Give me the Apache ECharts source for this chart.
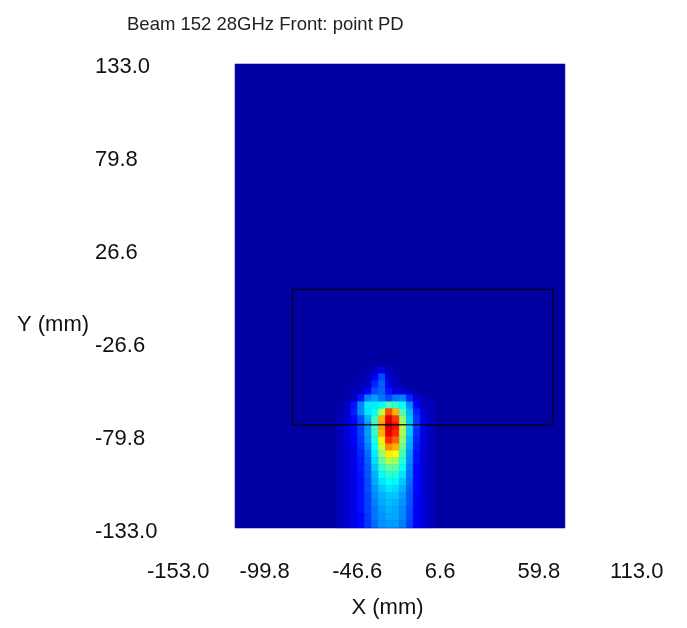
<!DOCTYPE html>
<html><head><meta charset="utf-8">
<script src="https://cdn.jsdelivr.net/npm/echarts@6/dist/echarts.min.js"></script>
<style>html,body{margin:0;padding:0;background:#fff}#c{width:687px;height:628px}</style>
</head><body><div id="c"></div>
<script>
const chartTitle = 'Beam 152 28GHz Front: point PD';
const xName = 'X (mm)';
const yName = 'Y (mm)';
const xTicks = [-153.0, -99.8, -46.6, 6.6, 59.8, 113.0];
const yTicks = [-133.0, -79.8, -26.6, 26.6, 79.8, 133.0];
// measured field extent [xMin, xMax, yMin, yMax] (mm)
const fieldExtent = [-102.4, 87.1, -130.7, 134.7];
const backgroundLevel = 0.02;
// evaluation box [xMin, xMax, yMin, yMax] (mm)
const evalBox = [-69.5, 80.1, -71.6, 5.7];
// cell centres (mm) of the hot region; rows listed top to bottom
const cellX = [-42, -38, -34, -30, -26, -22, -18, -14, -10, -6, -2, 2, 6, 10];
const cellY = [-40.5, -44.5, -48.5, -52.5, -56.5, -60.5, -64.5, -68.5, -72.5, -76.5, -80.5, -84.5,
  -88.5, -92.5, -96.5, -100.5, -104.5, -108.5, -112.5, -116.5, -120.5, -124.5, -128.5];
const cellSize = 4;
// normalised power density (0..1)
const intensity = [
  [.02,.02,.02,.02,.03,.06,.10,.05,.03,.02,.02,.02,.02,.02],
  [.02,.02,.02,.03,.05,.12,.20,.08,.04,.02,.02,.02,.02,.02],
  [.02,.02,.03,.04,.06,.16,.22,.10,.05,.03,.02,.02,.02,.02],
  [.02,.03,.04,.06,.12,.20,.22,.14,.10,.08,.05,.03,.02,.02],
  [.02,.03,.06,.14,.25,.28,.24,.20,.24,.25,.16,.08,.04,.03],
  [.03,.06,.14,.26,.36,.36,.38,.45,.42,.38,.26,.12,.06,.05],
  [.04,.07,.15,.26,.35,.38,.55,.80,.70,.45,.30,.16,.08,.05],
  [.04,.07,.13,.20,.30,.44,.70,.90,.82,.52,.32,.18,.09,.05],
  [.05,.08,.13,.19,.28,.44,.72,.93,.86,.55,.33,.18,.10,.05],
  [.05,.08,.13,.19,.28,.43,.70,.90,.84,.54,.32,.17,.09,.05],
  [.05,.08,.12,.18,.27,.41,.64,.84,.78,.52,.30,.16,.09,.05],
  [.05,.07,.11,.17,.25,.38,.58,.74,.70,.48,.29,.15,.08,.05],
  [.05,.07,.10,.16,.23,.36,.52,.64,.62,.44,.27,.14,.08,.05],
  [.05,.07,.10,.15,.22,.34,.47,.55,.53,.41,.26,.14,.08,.05],
  [.05,.07,.10,.15,.21,.32,.42,.47,.46,.38,.25,.13,.08,.05],
  [.05,.07,.10,.14,.21,.30,.38,.42,.41,.35,.24,.13,.08,.05],
  [.05,.07,.10,.14,.20,.29,.35,.38,.37,.32,.23,.13,.08,.05],
  [.05,.07,.10,.14,.20,.27,.32,.35,.34,.30,.22,.13,.08,.05],
  [.05,.07,.10,.14,.19,.26,.30,.32,.32,.28,.21,.12,.08,.05],
  [.05,.07,.10,.14,.19,.25,.29,.31,.30,.27,.21,.12,.08,.05],
  [.05,.07,.10,.14,.19,.24,.28,.30,.29,.26,.20,.12,.08,.05],
  [.05,.07,.10,.13,.18,.24,.27,.29,.29,.26,.20,.12,.08,.05],
  [.05,.07,.10,.13,.18,.23,.27,.28,.28,.25,.19,.12,.08,.05]
];
const jetColors = ['#000090','#0000ff','#0080ff','#00ffff','#80ff80','#ffff00','#ff8000','#ff0000','#800000'];

const h = cellSize / 2;
const fieldData = [[fieldExtent[0], fieldExtent[1], fieldExtent[2], fieldExtent[3], backgroundLevel]];
const cellData = [];
cellY.forEach((y, r) => cellX.forEach((x, c) => {
  cellData.push([x - h, x + h, y - h, y + h, intensity[r][c]]);
}));

function rectItem(params, api) {
  const p0 = api.coord([api.value(0), api.value(3)]);
  const p1 = api.coord([api.value(1), api.value(2)]);
  const col = api.visual('color');
  return {
    type: 'rect',
    shape: { x: p0[0], y: p0[1], width: p1[0] - p0[0], height: p1[1] - p0[1] },
    style: { fill: col, stroke: col, lineWidth: 0.6 }
  };
}
function boxItem(params, api) {
  const p0 = api.coord([api.value(0), api.value(3)]);
  const p1 = api.coord([api.value(1), api.value(2)]);
  return {
    type: 'rect',
    shape: { x: p0[0], y: p0[1], width: p1[0] - p0[0], height: p1[1] - p0[1] },
    style: { fill: 'none', stroke: '#000010', lineWidth: 1.5, opacity: 0.85 }
  };
}

const font = 'Liberation Sans';
const chart = echarts.init(document.getElementById('c'), null, { renderer: 'canvas' });
chart.setOption({
  animation: false,
  title: {
    text: chartTitle, left: 122, top: 10,
    textStyle: { fontSize: 18.5, fontWeight: 'normal', fontFamily: font, color: '#222' }
  },
  grid: { left: 147, right: 77, top: 67, bottom: 96, containLabel: false },
  xAxis: {
    type: 'value', min: -153, max: 113,
    axisLine: { show: false }, axisTick: { show: false }, splitLine: { show: false },
    axisLabel: {
      customValues: xTicks, align: 'left', margin: 29, fontSize: 22, fontFamily: font, color: '#111',
      formatter: v => v.toFixed(1), showMinLabel: true, showMaxLabel: true, hideOverlap: false
    },
    name: xName, nameLocation: 'middle', nameGap: 65,
    nameTextStyle: { fontSize: 22, fontFamily: font, color: '#111', padding: [0, 0, 0, 18] }
  },
  yAxis: {
    type: 'value', min: -133, max: 133,
    axisLine: { show: false }, axisTick: { show: false }, splitLine: { show: false },
    axisLabel: {
      customValues: yTicks, align: 'left', margin: 52, fontSize: 22, fontFamily: font, color: '#111',
      formatter: v => v.toFixed(1), showMinLabel: true, showMaxLabel: true, hideOverlap: false
    },
    name: yName, nameLocation: 'middle', nameRotate: 0, nameGap: 49,
    nameTextStyle: { fontSize: 22, fontFamily: font, color: '#111', verticalAlign: 'top', padding: [14, 0, 0, 0] }
  },
  visualMap: {
    type: 'continuous', show: false, seriesIndex: [0, 1], dimension: 4,
    min: 0, max: 1, inRange: { color: jetColors }
  },
  series: [
    { type: 'custom', name: 'field', renderItem: rectItem, data: fieldData, silent: true },
    { type: 'custom', name: 'power density', renderItem: rectItem, data: cellData, silent: true },
    { type: 'custom', name: 'box', renderItem: boxItem, data: [evalBox], silent: true }
  ]
});
</script></body></html>
